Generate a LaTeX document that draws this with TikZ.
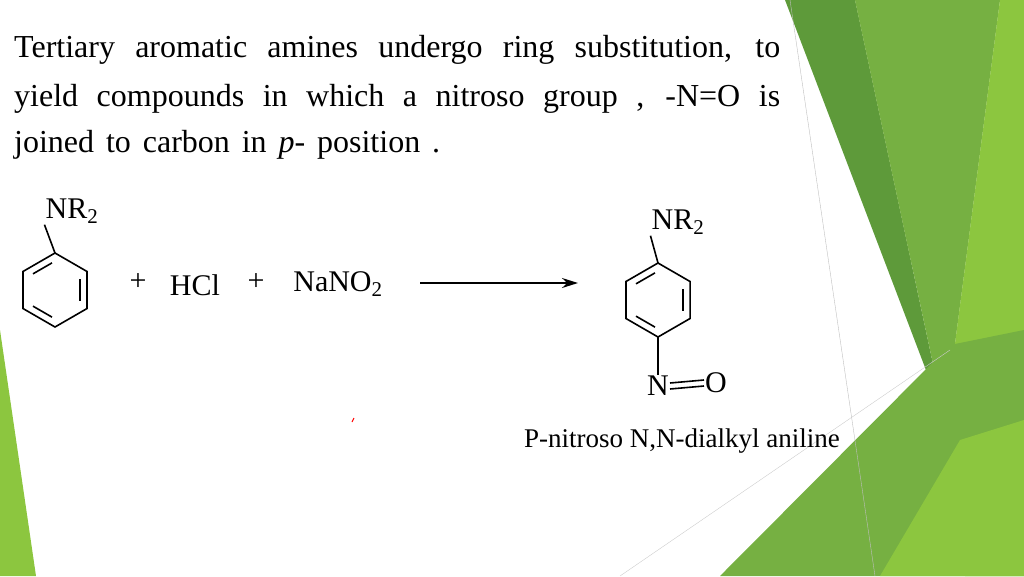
\documentclass[tikz,border=0pt]{standalone}
\usepackage{fontspec}
\setmainfont{Liberation Serif}
\usetikzlibrary{arrows.meta,calc}
\definecolor{gdark}{HTML}{5E9A3A}
\definecolor{gmid}{HTML}{76B042}
\definecolor{glime}{HTML}{8CC63F}
\definecolor{glight}{HTML}{C9E3A4}
\begin{document}
\begin{tikzpicture}[x=1pt,y=-1pt,
  bond/.style={line width=1.6pt},
  chem/.style={font=\fontsize{30}{34}\selectfont, inner sep=1pt},
  line/.style={anchor=base west, inner sep=0pt, font=\fontsize{32}{36}\selectfont}]
\useasboundingbox (0,0) rectangle (1024,576);
% background
\fill[glight!60] (830,0) -- (1000,0) -- (960,420) -- cycle;
\fill[gdark] (785,0) -- (855,0) -- (945,420) -- cycle;
\fill[gmid] (855,0) -- (1000,0) -- (945,420) -- cycle;
\fill[glime] (1000,0) -- (1024,0) -- (1024,576) -- (965,576) -- (945,420) -- cycle;
\fill[gmid] (720,576) -- (950,345) -- (1024,330) -- (1024,576) -- cycle;
\fill[glime] (880,576) -- (960,440) -- (1024,420) -- (1024,576) -- cycle;
\fill[glime] (0,330) -- (36,576) -- (0,576) -- cycle;
\draw[gray!50, line width=0.4pt] (790,0) -- (875,576);
\draw[gray!40, line width=0.4pt] (620,576) -- (950,350);
% text
\node[line] (l1) at (14,57) {\makebox[766pt][s]{Tertiary aromatic amines undergo ring substitution, to}};
\node[line] (l2) at (14,106) {\makebox[766pt][s]{yield compounds in which a nitroso group , -N=O is}};
\node[line] (l3) at (14,152) {\makebox[426pt][s]{joined to carbon in \textit{p}- position .}};
% left ring
\coordinate (ca) at (55,290);
\foreach \i in {0,...,5} \coordinate (a\i) at ({55+37*sin(60*\i)},{290-37*cos(60*\i)});
\draw[bond] (a0) -- (a1) -- (a2) -- (a3) -- (a4) -- (a5) -- cycle;
\foreach \u/\v in {1/2,3/4,5/0}
  \draw[bond] ($(ca)!0.78!($(a\u)!0.12!(a\v)$)$) -- ($(ca)!0.78!($(a\v)!0.12!(a\u)$)$);
\node[chem] (nr1) at (72,211) {NR\textsubscript{2}};
\draw[bond] (a0) -- (nr1.south west);
\node[chem] (p1) at (138,282) {+};
\node[chem] (hcl) at (195,285) {HCl};
\node[chem] (p2) at (256,282) {+};
\node[chem] (nano) at (338,284) {NaNO\textsubscript{2}};
\coordinate (ar1) at (420,283);
\coordinate (ar2) at (578,283);
\draw[line width=1.8pt, -{Stealth[length=16pt,width=10pt]}] (ar1) -- (ar2);
% right ring
\coordinate (cb) at (658,300);
\foreach \i in {0,...,5} \coordinate (b\i) at ({658+37*sin(60*\i)},{300-37*cos(60*\i)});
\draw[bond] (b0) -- (b1) -- (b2) -- (b3) -- (b4) -- (b5) -- cycle;
\foreach \u/\v in {1/2,3/4,5/0}
  \draw[bond] ($(cb)!0.78!($(b\u)!0.12!(b\v)$)$) -- ($(cb)!0.78!($(b\v)!0.12!(b\u)$)$);
\node[chem] (nr2) at (678,222) {NR\textsubscript{2}};
\draw[bond] (b0) -- (nr2.south west);
\node[chem] (n) at (658,386) {N};
\node[chem] (o) at (716,383) {O};
\draw[bond] (b3) -- (n);
\draw[bond] ([yshift=-3]n.east) -- ([yshift=-3]o.west);
\draw[bond] ([yshift=3]n.east) -- ([yshift=3]o.west);
\draw[red, line width=1pt] (352,422) -- (354,418);
\node[font=\fontsize{27}{30}\selectfont] (name) at (682,441) {P-nitroso N,N-dialkyl aniline};
\end{tikzpicture}
\end{document}
